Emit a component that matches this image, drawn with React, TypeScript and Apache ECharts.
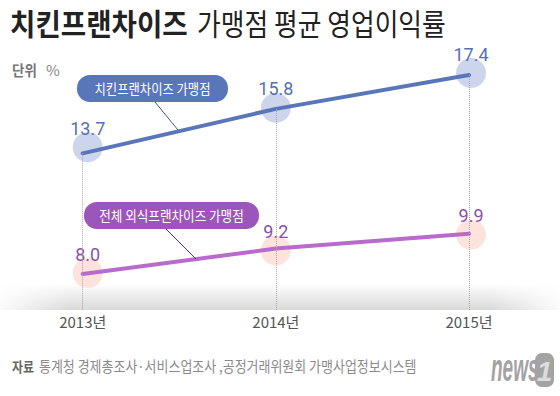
import React, { useEffect, useRef } from "react";
import * as echarts from "echarts";

const categories = ["2013년", "2014년", "2015년"];
const chickenValues = [13.7, 15.8, 17.4];
const allValues = [8.0, 9.2, 9.9];
const chickenName = "치킨프랜차이즈 가맹점";
const allName = "전체 외식프랜차이즈 가맹점";
const titleBold = "치킨프랜차이즈";
const titleRest = "가맹점 평균 영업이익률";
const unitLabel = "단위";
const sourceLabel = "자료";
const sourceText = "통계청 경제총조사·서비스업조사 ,공정거래위원회 가맹사업정보시스템";

const Y_MIN = 6.3;
const Y_MAX = 18;

const blueOffsets = [[5, -6], [0, -1], [2, -2]];
const purpleOffsets = [[5, -1], [0, 2], [2, 1]];

const KR = '"Noto Sans CJK KR", "Noto Sans", sans-serif';

export default function App() {
  const ref = useRef<HTMLDivElement>(null);
  useEffect(() => {
    document.body.style.margin = "0";
    const chart = echarts.init(ref.current!, null, { renderer: "svg" });
    const circleData = (vals: number[], offs: number[][]) =>
      vals.map((v, i) => ({ value: v, symbolOffset: offs[i] }));
    const txt = (
      x: number, y: number, text: string, size: number, fill: string,
      opts: any = {}
    ) => ({
      type: "text",
      z: opts.z ?? 10,
      x, y,
      scaleX: opts.scaleX ?? 1,
      style: {
        x: 0, y: 0,
        text,
        fontSize: size,
        fontWeight: opts.weight ?? "normal",
        fontStyle: opts.style ?? "normal",
        fontFamily: opts.family ?? KR,
        fill,
        align: opts.align ?? "left", textAlign: opts.align ?? "left",
        verticalAlign: "middle", textVerticalAlign: "middle",
      },
    });
    const option: any = {
      animation: false,
      backgroundColor: "#ffffff",
      grid: { left: 82.7, right: 91, top: 62.3, bottom: 86 },
      xAxis: {
        type: "category",
        data: categories,
        boundaryGap: false,
        axisLine: { show: false },
        axisTick: { show: false },
        splitLine: { show: false },
        axisLabel: { color: "#555", fontSize: 15, fontFamily: KR, margin: 4 },
      },
      yAxis: {
        type: "value",
        min: Y_MIN,
        max: Y_MAX,
        show: false,
        splitLine: { show: false },
      },
      graphic: [
        {
          type: "rect",
          z: 0,
          silent: true,
          shape: { x: 0, y: 283, width: 560, height: 27 },
          style: {
            fill: new echarts.graphic.LinearGradient(0, 0, 0, 1, [
              { offset: 0, color: "rgba(0,0,0,0)" },
              { offset: 1, color: "rgba(0,0,0,0.15)" },
            ]),
          },
        },
        {
          type: "rect",
          z: 0,
          silent: true,
          shape: { x: 0, y: 283, width: 70, height: 27 },
          style: {
            fill: new echarts.graphic.LinearGradient(0, 0, 1, 0, [
              { offset: 0, color: "rgba(255,255,255,0.9)" },
              { offset: 1, color: "rgba(255,255,255,0)" },
            ]),
          },
        },
        {
          type: "rect",
          z: 0,
          silent: true,
          shape: { x: 490, y: 283, width: 70, height: 27 },
          style: {
            fill: new echarts.graphic.LinearGradient(0, 0, 1, 0, [
              { offset: 0, color: "rgba(255,255,255,0)" },
              { offset: 1, color: "rgba(255,255,255,0.9)" },
            ]),
          },
        },
        txt(10, 22, titleBold, 30, "#222", { weight: "bold", scaleX: 0.92 }),
        txt(197, 22, titleRest, 30, "#222", { scaleX: 0.86 }),
        txt(12, 69, unitLabel, 15, "#777", { weight: "bold", scaleX: 0.9 }),
        txt(46, 69, "%", 15, "#888"),
        {
          type: "line",
          z: 10,
          shape: { x1: 155, y1: 102, x2: 178, y2: 130 },
          style: { stroke: "#3d5590", lineWidth: 1 },
        },
        {
          type: "rect",
          z: 10,
          shape: { x: 77, y: 75, width: 151, height: 27, r: 13 },
          style: { fill: "#5a76ba" },
        },
        txt(152.5, 88.5, chickenName, 14, "#ffffff", { align: "center", scaleX: 0.88, z: 11 }),
        {
          type: "line",
          z: 10,
          shape: { x1: 165, y1: 228, x2: 196, y2: 259 },
          style: { stroke: "#5b2d6e", lineWidth: 1 },
        },
        {
          type: "rect",
          z: 10,
          shape: { x: 84, y: 202, width: 175, height: 27, r: 13 },
          style: { fill: "#9c56ba" },
        },
        txt(171.5, 215.5, allName, 14, "#ffffff", { align: "center", scaleX: 0.9, z: 11 }),
        txt(12, 366, sourceLabel, 14, "#666", { weight: "bold", scaleX: 0.85 }),
        txt(39, 366, sourceText, 15, "#8a8a8a", { scaleX: 0.865 }),
        txt(491, 368, "news", 38, "#a3a3a3", {
          weight: 900, style: "italic", family: '"Liberation Sans", sans-serif', scaleX: 0.5,
        }),
        {
          type: "rect",
          z: 10,
          shape: { x: 535, y: 353, width: 19, height: 34, r: 7 },
          style: { fill: "#a3a3a3" },
        },
        txt(544.5, 371, "1", 28, "#dcdcdc", {
          weight: "bold", style: "italic", family: '"Liberation Sans", sans-serif', align: "center", z: 11,
        }),
      ],
      series: [
        {
          name: "bg-blue",
          type: "scatter",
          z: 2,
          symbol: "circle",
          symbolSize: 30,
          data: circleData(chickenValues, blueOffsets),
          itemStyle: { color: "#ccd5ec", opacity: 1 },
          label: {
            show: true,
            position: "inside",
            offset: [0, -19],
            formatter: (p: any) => Number(p.value).toFixed(1),
            color: "#5570b5",
            fontSize: 18,
            fontFamily: "Roboto, sans-serif",
          },
          silent: true,
        },
        {
          name: "bg-purple",
          type: "scatter",
          z: 2,
          symbol: "circle",
          symbolSize: 30,
          data: circleData(allValues, purpleOffsets),
          itemStyle: { color: "#fde3dc", opacity: 1 },
          label: {
            show: true,
            position: "inside",
            offset: [0, -19],
            formatter: (p: any) => Number(p.value).toFixed(1),
            color: "#8c50a8",
            fontSize: 18,
            fontFamily: "Roboto, sans-serif",
          },
          silent: true,
        },
        {
          name: "guides",
          type: "line",
          z: 3,
          data: chickenValues,
          showSymbol: false,
          lineStyle: { opacity: 0 },
          silent: true,
          markLine: {
            silent: true,
            symbol: "none",
            label: { show: false },
            lineStyle: { type: "dotted", color: "#a8a8a8", width: 1 },
            data: categories.map((c, i) => [
              { coord: [c, chickenValues[i]] },
              { coord: [c, Y_MIN] },
            ]),
          },
        },
        {
          name: chickenName,
          type: "line",
          z: 4,
          data: chickenValues,
          showSymbol: false,
          lineStyle: { color: "#5a76ba", width: 4, cap: "round" },
          itemStyle: { color: "#5a76ba" },
        },
        {
          name: allName,
          type: "line",
          z: 4,
          data: allValues,
          showSymbol: false,
          lineStyle: { color: "#b86bcc", width: 4, cap: "round" },
          itemStyle: { color: "#b86bcc" },
        },
      ],
    };
    chart.setOption(option);
    return () => chart.dispose();
  }, []);
  return <div ref={ref} style={{ width: 560, height: 396 }} />;
}
